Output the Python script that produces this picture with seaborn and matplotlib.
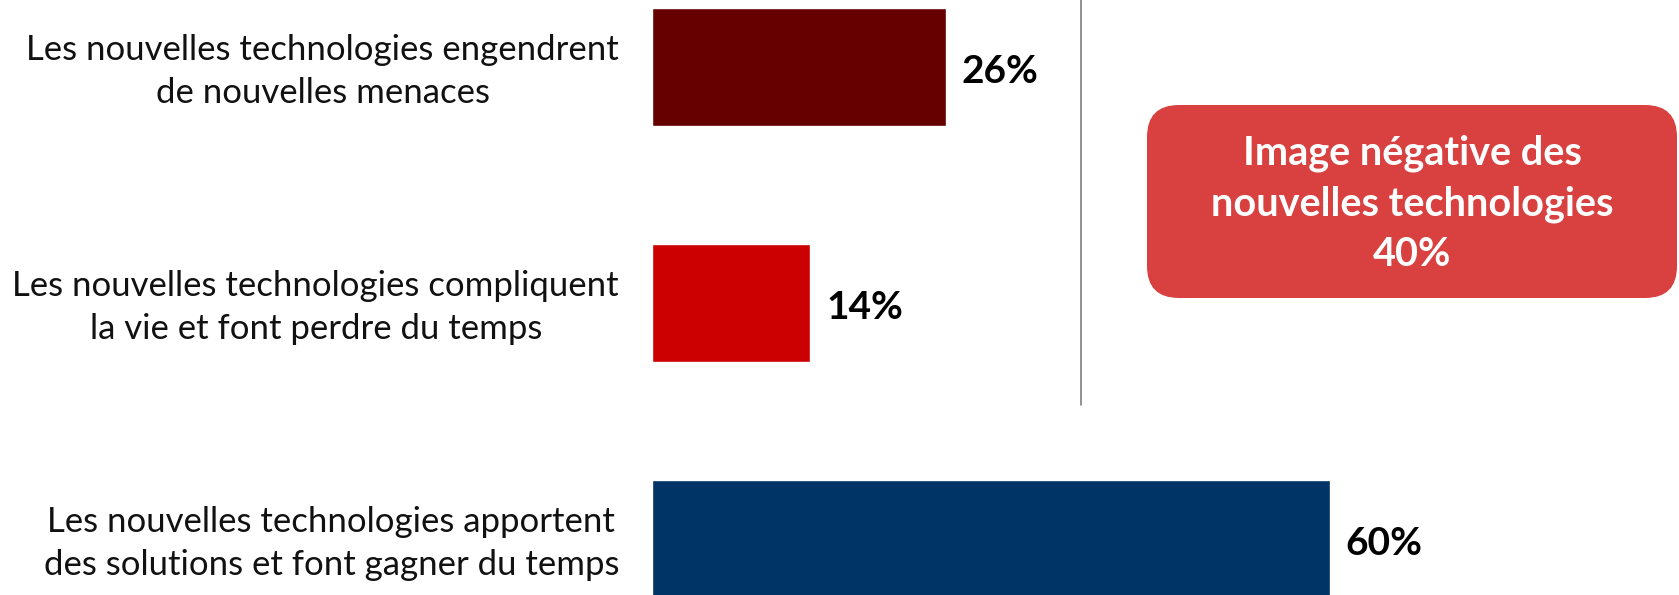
import matplotlib
matplotlib.use("Agg")
import matplotlib.pyplot as plt
import seaborn as sns
import pandas as pd
from matplotlib.patches import FancyBboxPatch

categories = [
    "Les nouvelles technologies engendrent\nde nouvelles menaces",
    "Les nouvelles technologies compliquent\nla vie et font perdre du temps",
    "Les nouvelles technologies apportent\ndes solutions et font gagner du temps",
]
values = [26, 14, 60]
colors = ["#660000", "#CC0000", "#003366"]
box_text = "Image négative des\nnouvelles technologies\n40%"

sns.set_theme(style="white")
plt.rcParams["font.family"] = ["Lato", "DejaVu Sans"]

W, H = 1679, 595
fig = plt.figure(figsize=(W / 100, H / 100), dpi=100)

left_px = 652
px_per_unit = 11.3
ax = fig.add_axes([left_px / W, 0, 1 - left_px / W, 1])

df = pd.DataFrame({"cat": categories, "val": values})
sns.barplot(data=df, y="cat", x="val", hue="cat", palette=colors,
            orient="h", width=0.5, legend=False, ax=ax, saturation=1)

ax.set_xlim(0, (W - left_px) / px_per_unit)
ax.set_ylim(2.237, -0.284)
for s in ax.spines.values():
    s.set_visible(False)
ax.set_xticks([])
ax.set_yticks([])
ax.set_xlabel("")
ax.set_ylabel("")

for i, (c, v) in enumerate(zip(categories, values)):
    ax.text(v + 1.4, i + 0.02, f"{v}%", ha="left", va="center",
            fontsize=28, fontweight="bold", color="#000000")
    ax.text(-33 / px_per_unit, i + 0.02, c, ha="right", va="center",
            multialignment="center",
            fontsize=25, color="#111111", linespacing=1.42)

# separator line
ax.plot([38.0, 38.0], [-0.284, 1.432], color="#7f7f7f", lw=1.2, clip_on=False)

# overlay axes in pixel coords for the box
ov = fig.add_axes([0, 0, 1, 1], facecolor="none")
ov.set_xlim(0, W)
ov.set_ylim(H, 0)
ov.axis("off")
box = FancyBboxPatch((1147, 105), 530, 193,
                     boxstyle="round,pad=0,rounding_size=32",
                     facecolor="#D94040", edgecolor="none")
ov.add_patch(box)
ov.text(1412, 204, box_text, ha="center", va="center", color="white",
        fontsize=28.5, fontweight="bold", linespacing=1.45)

fig.savefig("out.png", dpi=100)
